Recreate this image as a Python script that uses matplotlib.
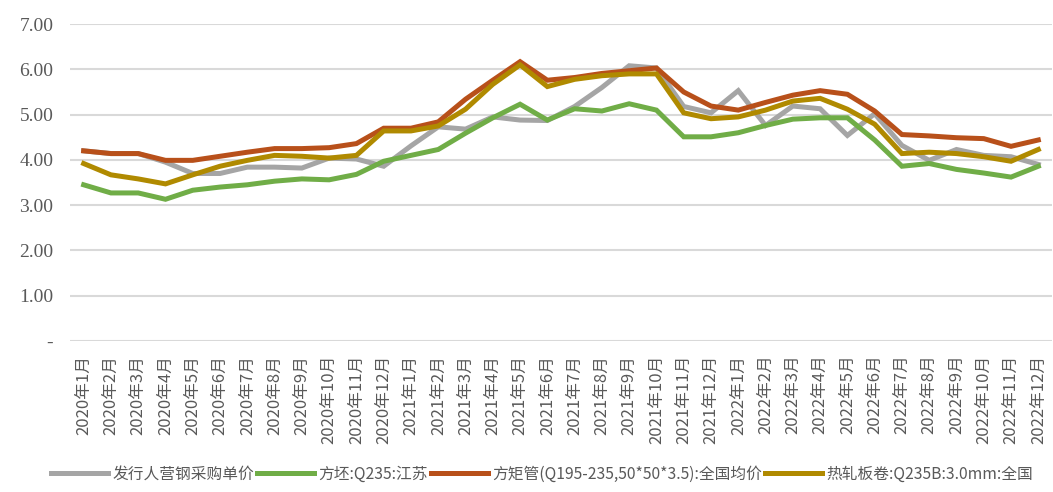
import matplotlib.pyplot as plt

plt.rcParams['font.family'] = ['Noto Sans CJK SC', 'DejaVu Sans']

# 月份
meses = [f'{a}年{m}月' for a in (2020, 2021, 2022) for m in range(1, 13)]

# 各系列价格 (千元/吨)
caigou = [4.20, 4.14, 4.14, 3.95, 3.70, 3.70, 3.84, 3.84, 3.82, 4.04, 4.02, 3.86,
          4.31, 4.73, 4.68, 4.95, 4.88, 4.87, 5.18, 5.60, 6.08, 6.03, 5.18, 5.04,
          5.53, 4.76, 5.19, 5.13, 4.54, 5.02, 4.32, 3.99, 4.23, 4.10, 4.07, 3.90]
fangpi = [3.45, 3.27, 3.27, 3.13, 3.33, 3.40, 3.45, 3.53, 3.58, 3.56, 3.68, 3.97,
          4.10, 4.23, 4.59, 4.93, 5.23, 4.88, 5.13, 5.08, 5.24, 5.10, 4.51, 4.51,
          4.60, 4.76, 4.90, 4.93, 4.93, 4.44, 3.86, 3.92, 3.79, 3.71, 3.62, 3.86]
fangjuguan = [4.20, 4.14, 4.14, 3.99, 3.99, 4.08, 4.17, 4.25, 4.25, 4.27, 4.36, 4.70,
              4.70, 4.84, 5.34, 5.76, 6.17, 5.76, 5.82, 5.91, 5.97, 6.03, 5.50, 5.19,
              5.10, 5.27, 5.43, 5.53, 5.45, 5.08, 4.56, 4.53, 4.49, 4.47, 4.30, 4.44]
rezha = [3.92, 3.67, 3.58, 3.47, 3.67, 3.86, 3.99, 4.10, 4.08, 4.04, 4.10, 4.64,
         4.64, 4.75, 5.12, 5.67, 6.10, 5.62, 5.78, 5.86, 5.90, 5.90, 5.04, 4.91,
         4.95, 5.10, 5.30, 5.36, 5.12, 4.79, 4.14, 4.17, 4.14, 4.07, 3.97, 4.23]

series = [
    ('发行人营钢采购单价', caigou, '#A5A5A5'),
    ('方坯:Q235:江苏', fangpi, '#70AD47'),
    ('方矩管(Q195-235,50*50*3.5):全国均价', fangjuguan, '#B8501A'),
    ('热轧板卷:Q235B:3.0mm:全国', rezha, '#B08A00'),
]

fig = plt.figure(figsize=(10.53, 4.92), dpi=100)
ax = fig.add_axes([0.0665, 0.307, 0.9325, 0.644])

x = list(range(len(meses)))
for nome, vals, cor in series:
    ax.plot(x, vals, color=cor, linewidth=3.6, label=nome, solid_joinstyle='miter')

ax.set_xlim(-0.5, len(meses) - 0.5)
ax.set_ylim(0, 7)
ax.set_yticks(range(8))
ax.set_yticklabels(['-'] + [f'{v:.2f}' for v in range(1, 8)],
                   fontfamily='Liberation Serif', fontsize=14, color='#595959')
ax.set_xticks(x)
ax.set_xticklabels(meses, rotation=90, fontsize=12, color='#595959')
ax.tick_params(axis='y', length=0, pad=12)
ax.tick_params(axis='x', length=0, pad=10)
ax.grid(axis='y', color='#D9D9D9', linewidth=1.5)
ax.set_axisbelow(True)
for s in ax.spines.values():
    s.set_visible(False)

fig.legend(loc='lower center', bbox_to_anchor=(0.515, -0.01), ncol=4, frameon=False,
           fontsize=11.3, handlelength=3.6, handletextpad=0.3, columnspacing=0.2,
           labelcolor='#595959')

fig.savefig('out.png', dpi=100)
